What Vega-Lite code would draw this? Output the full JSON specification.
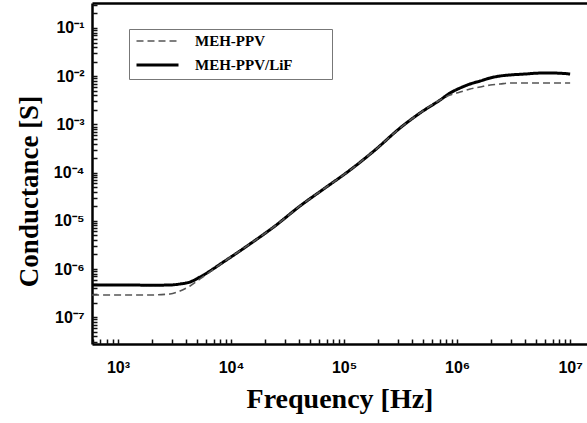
{
  "$schema": "https://vega.github.io/schema/vega-lite/v6.json",
  "width": 495,
  "height": 341,
  "autosize": {"type": "none"},
  "padding": {"left": 92, "top": 3, "right": 0, "bottom": 79},
  "background": "white",
  "config": {"view": {"stroke": null}},
  "data": {
    "values": [
      {"f": 590, "g": 4.66e-7, "series": "MEH-PPV/LiF"},
      {"f": 1280, "g": 4.66e-7, "series": "MEH-PPV/LiF"},
      {"f": 1920, "g": 4.6e-7, "series": "MEH-PPV/LiF"},
      {"f": 2880, "g": 4.66e-7, "series": "MEH-PPV/LiF"},
      {"f": 3540, "g": 4.89e-7, "series": "MEH-PPV/LiF"},
      {"f": 4340, "g": 5.37e-7, "series": "MEH-PPV/LiF"},
      {"f": 5320, "g": 6.83e-7, "series": "MEH-PPV/LiF"},
      {"f": 8850, "g": 1.47e-6, "series": "MEH-PPV/LiF"},
      {"f": 14700, "g": 3.3e-6, "series": "MEH-PPV/LiF"},
      {"f": 24500, "g": 7.8e-6, "series": "MEH-PPV/LiF"},
      {"f": 40800, "g": 2.03e-5, "series": "MEH-PPV/LiF"},
      {"f": 67900, "g": 4.79e-5, "series": "MEH-PPV/LiF"},
      {"f": 113000, "g": 1.13e-4, "series": "MEH-PPV/LiF"},
      {"f": 188000, "g": 2.94e-4, "series": "MEH-PPV/LiF"},
      {"f": 313000, "g": 8.42e-4, "series": "MEH-PPV/LiF"},
      {"f": 471000, "g": 1.73e-3, "series": "MEH-PPV/LiF"},
      {"f": 708000, "g": 3.21e-3, "series": "MEH-PPV/LiF"},
      {"f": 867000, "g": 4.48e-3, "series": "MEH-PPV/LiF"},
      {"f": 1064000, "g": 5.69e-3, "series": "MEH-PPV/LiF"},
      {"f": 1303000, "g": 6.89e-3, "series": "MEH-PPV/LiF"},
      {"f": 1600000, "g": 7.94e-3, "series": "MEH-PPV/LiF"},
      {"f": 1960000, "g": 9.18e-3, "series": "MEH-PPV/LiF"},
      {"f": 2400000, "g": 1.01e-2, "series": "MEH-PPV/LiF"},
      {"f": 2940000, "g": 1.06e-2, "series": "MEH-PPV/LiF"},
      {"f": 4000000, "g": 1.11e-2, "series": "MEH-PPV/LiF"},
      {"f": 5430000, "g": 1.16e-2, "series": "MEH-PPV/LiF"},
      {"f": 7360000, "g": 1.16e-2, "series": "MEH-PPV/LiF"},
      {"f": 10000000, "g": 1.11e-2, "series": "MEH-PPV/LiF"},
      {"f": 590, "g": 2.89e-7, "series": "MEH-PPV"},
      {"f": 1280, "g": 2.89e-7, "series": "MEH-PPV"},
      {"f": 1920, "g": 2.89e-7, "series": "MEH-PPV"},
      {"f": 2880, "g": 3.03e-7, "series": "MEH-PPV"},
      {"f": 3540, "g": 3.5e-7, "series": "MEH-PPV"},
      {"f": 4340, "g": 4.44e-7, "series": "MEH-PPV"},
      {"f": 5320, "g": 6.21e-7, "series": "MEH-PPV"},
      {"f": 8850, "g": 1.47e-6, "series": "MEH-PPV"},
      {"f": 14700, "g": 3.3e-6, "series": "MEH-PPV"},
      {"f": 24500, "g": 7.8e-6, "series": "MEH-PPV"},
      {"f": 40800, "g": 2.03e-5, "series": "MEH-PPV"},
      {"f": 67900, "g": 4.79e-5, "series": "MEH-PPV"},
      {"f": 113000, "g": 1.13e-4, "series": "MEH-PPV"},
      {"f": 188000, "g": 2.94e-4, "series": "MEH-PPV"},
      {"f": 313000, "g": 8.42e-4, "series": "MEH-PPV"},
      {"f": 471000, "g": 1.73e-3, "series": "MEH-PPV"},
      {"f": 708000, "g": 3.21e-3, "series": "MEH-PPV"},
      {"f": 867000, "g": 4.07e-3, "series": "MEH-PPV"},
      {"f": 1064000, "g": 4.7e-3, "series": "MEH-PPV"},
      {"f": 1303000, "g": 5.42e-3, "series": "MEH-PPV"},
      {"f": 1600000, "g": 5.97e-3, "series": "MEH-PPV"},
      {"f": 1960000, "g": 6.56e-3, "series": "MEH-PPV"},
      {"f": 2400000, "g": 6.89e-3, "series": "MEH-PPV"},
      {"f": 2940000, "g": 7.22e-3, "series": "MEH-PPV"},
      {"f": 4000000, "g": 7.22e-3, "series": "MEH-PPV"},
      {"f": 5430000, "g": 7.22e-3, "series": "MEH-PPV"},
      {"f": 7360000, "g": 7.22e-3, "series": "MEH-PPV"},
      {"f": 10000000, "g": 7.22e-3, "series": "MEH-PPV"}
    ]
  },
  "layer": [
    {
      "mark": {"type": "line", "clip": true, "interpolate": "monotone"},
      "encoding": {
        "x": {
          "field": "f",
          "type": "quantitative",
          "scale": {"type": "log", "domain": [589, 14100000], "nice": false},
          "axis": {
            "orient": "bottom",
            "title": "Frequency [Hz]",
            "titleFont": "Liberation Serif",
            "titleFontWeight": "bold",
            "titleFontSize": 28,
            "titleColor": "black",
            "titleBaseline": "alphabetic",
            "titleY": 63,
            "grid": false,
            "domainColor": "black",
            "domainWidth": 2.5,
            "ticks": false,
            "values": [1000, 10000, 100000, 1000000, 10000000],
            "labelExpr": "'10' + ['⁰','¹','²','³','⁴','⁵','⁶','⁷','⁸','⁹'][round(log(datum.value)/LN10)]",
            "labelFont": "Liberation Sans",
            "labelFontWeight": "bold",
            "labelFontSize": 16,
            "labelColor": "black",
            "labelPadding": 15,
            "labelOverlap": false,
            "labelFlush": false,
            "labelBound": false
          }
        },
        "y": {
          "field": "g",
          "type": "quantitative",
          "scale": {"type": "log", "domain": [2.78e-8, 0.33], "nice": false},
          "axis": {
            "orient": "left",
            "title": "Conductance [S]",
            "titleFont": "Liberation Serif",
            "titleFontWeight": "bold",
            "titleFontSize": 27,
            "titleColor": "black",
            "titleBaseline": "alphabetic",
            "titleAngle": -90,
            "titleX": -55,
            "titleY": 188,
            "grid": false,
            "domainColor": "black",
            "domainWidth": 2.5,
            "ticks": false,
            "values": [1e-7, 1e-6, 1e-5, 1e-4, 1e-3, 1e-2, 1e-1],
            "labelExpr": "'10⁻' + ['⁰','¹','²','³','⁴','⁵','⁶','⁷','⁸','⁹'][-round(log(datum.value)/LN10)]",
            "labelFont": "Liberation Sans",
            "labelFontWeight": "bold",
            "labelFontSize": 16,
            "labelColor": "black",
            "labelPadding": 8,
            "labelOverlap": false,
            "labelFlush": false,
            "labelBound": false
          }
        },
        "color": {
          "field": "series",
          "type": "nominal",
          "scale": {"domain": ["MEH-PPV", "MEH-PPV/LiF"], "range": ["#555555", "#000000"]},
          "legend": {
            "orient": "none", "legendX": 37, "legendY": 26, "title": null,
            "symbolType": "stroke", "symbolSize": 1764, "clipHeight": 12,
            "labelFont": "Liberation Serif", "labelFontWeight": "bold", "labelFontSize": 15, "labelColor": "black",
            "labelOffset": 15,
            "labelExpr": "datum.label + '\u2800\u2800\u2800'",
            "padding": 6, "rowPadding": 9, "strokeColor": "#777777", "fillColor": "white"
          }
        },
        "strokeDash": {
          "field": "series",
          "type": "nominal",
          "scale": {"domain": ["MEH-PPV", "MEH-PPV/LiF"], "range": [[7, 4], [1, 0]]},
          "legend": {
            "orient": "none", "legendX": 37, "legendY": 26, "title": null,
            "symbolType": "stroke", "symbolSize": 1764, "clipHeight": 12,
            "labelFont": "Liberation Serif", "labelFontWeight": "bold", "labelFontSize": 15, "labelColor": "black",
            "labelOffset": 15,
            "labelExpr": "datum.label + '\u2800\u2800\u2800'",
            "padding": 6, "rowPadding": 9, "strokeColor": "#777777", "fillColor": "white"
          }
        },
        "strokeWidth": {
          "field": "series",
          "type": "nominal",
          "scale": {"domain": ["MEH-PPV", "MEH-PPV/LiF"], "range": [1.6, 3]},
          "legend": {
            "orient": "none", "legendX": 37, "legendY": 26, "title": null,
            "symbolType": "stroke", "symbolSize": 1764, "clipHeight": 12,
            "labelFont": "Liberation Serif", "labelFontWeight": "bold", "labelFontSize": 15, "labelColor": "black",
            "labelOffset": 15,
            "labelExpr": "datum.label + '\u2800\u2800\u2800'",
            "padding": 6, "rowPadding": 9, "strokeColor": "#777777", "fillColor": "white"
          }
        }
      }
    },
    {
      "mark": {"type": "line", "opacity": 0},
      "encoding": {
        "x": {
          "field": "f",
          "type": "quantitative",
          "axis": {"orient": "top", "title": null, "labels": false, "ticks": false, "grid": false, "domainColor": "black", "domainWidth": 2.5}
        },
        "y": {"field": "g", "type": "quantitative", "axis": null},
        "detail": {"field": "series", "type": "nominal"}
      }
    },
    {
      "mark": {"type": "line", "opacity": 0},
      "encoding": {
        "x": {
          "field": "f",
          "type": "quantitative",
          "axis": {"orient": "top", "offset": -341, "title": null, "labels": false, "domain": false, "grid": false, "ticks": true, "tickColor": "#111111", "tickWidth": 1.5, "tickSize": 5,
            "values": [600,700,800,900,1000,2000,3000,4000,5000,6000,7000,8000,9000,10000,20000,30000,40000,50000,60000,70000,80000,90000,100000,200000,300000,400000,500000,600000,700000,800000,900000,1000000,2000000,3000000,4000000,5000000,6000000,7000000,8000000,9000000,10000000]}
        },
        "y": {
          "field": "g",
          "type": "quantitative",
          "axis": {"orient": "right", "offset": -495, "title": null, "labels": false, "domain": false, "grid": false, "ticks": true, "tickColor": "#111111", "tickWidth": 1.5, "tickSize": 5,
            "values": [3e-8,4e-8,5e-8,6e-8,7e-8,8e-8,9e-8,1e-7,2e-7,3e-7,4e-7,5e-7,6e-7,7e-7,8e-7,9e-7,1e-6,2e-6,3e-6,4e-6,5e-6,6e-6,7e-6,8e-6,9e-6,1e-5,2e-5,3e-5,4e-5,5e-5,6e-5,7e-5,8e-5,9e-5,1e-4,2e-4,3e-4,4e-4,5e-4,6e-4,7e-4,8e-4,9e-4,1e-3,2e-3,3e-3,4e-3,5e-3,6e-3,7e-3,8e-3,9e-3,1e-2,2e-2,3e-2,4e-2,5e-2,6e-2,7e-2,8e-2,9e-2,1e-1,2e-1,3e-1]}
        },
        "detail": {"field": "series", "type": "nominal"}
      }
    }
  ],
  "resolve": {"axis": {"x": "independent", "y": "independent"}}
}
